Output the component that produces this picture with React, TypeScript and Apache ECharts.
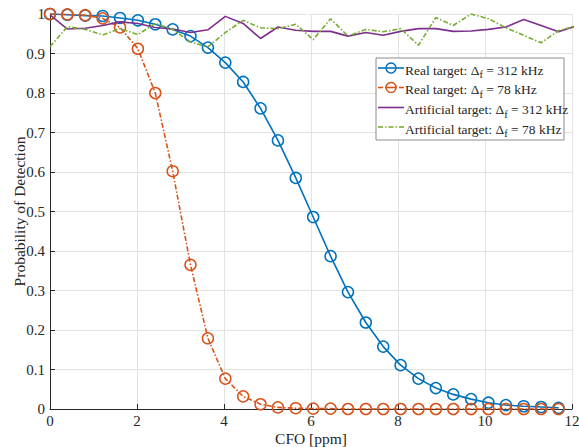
import React, { useEffect, useRef } from "react";
import * as echarts from "echarts";

// CFO values [ppm]
const cfoReal = [0, 0.40, 0.81, 1.21, 1.61, 2.02, 2.42, 2.82, 3.23, 3.63, 4.03, 4.44, 4.84, 5.24, 5.65, 6.05, 6.45, 6.85, 7.26, 7.66, 8.06, 8.47, 8.87, 9.27, 9.68, 10.08, 10.48, 10.89, 11.29, 11.69];
const cfoArtificial = [0, 0.40, 0.81, 1.21, 1.61, 2.02, 2.42, 2.82, 3.23, 3.63, 4.03, 4.44, 4.84, 5.24, 5.65, 6.05, 6.45, 6.85, 7.26, 7.66, 8.06, 8.47, 8.87, 9.27, 9.68, 10.08, 10.48, 10.89, 11.29, 11.69, 12.10];

const real312 = [1.0, 0.998, 0.996, 0.995, 0.990, 0.984, 0.974, 0.961, 0.944, 0.915, 0.877, 0.828, 0.761, 0.680, 0.585, 0.486, 0.387, 0.296, 0.219, 0.158, 0.111, 0.077, 0.053, 0.037, 0.025, 0.016, 0.010, 0.007, 0.005, 0.003];
const real78 = [1.0, 0.999, 0.997, 0.989, 0.966, 0.912, 0.800, 0.602, 0.365, 0.179, 0.077, 0.032, 0.012, 0.004, 0.002, 0.001, 0.001, 0.0, 0.0, 0.0, 0.0, 0.0, 0.0, 0.0, 0.0, 0.0, 0.0, 0.0, 0.0, 0.0];
const artificial312 = [0.998, 0.962, 0.964, 0.971, 0.980, 0.976, 0.966, 0.962, 0.953, 0.960, 0.994, 0.976, 0.938, 0.967, 0.959, 0.956, 0.956, 0.944, 0.953, 0.946, 0.956, 0.963, 0.963, 0.956, 0.957, 0.961, 0.967, 0.986, 0.971, 0.955, 0.970];
const artificial78 = [0.917, 0.968, 0.961, 0.947, 0.963, 0.948, 0.976, 0.961, 0.929, 0.917, 0.953, 0.984, 0.965, 0.963, 0.974, 0.935, 0.988, 0.944, 0.961, 0.955, 0.963, 0.921, 0.991, 0.971, 1.0, 0.988, 0.965, 0.946, 0.927, 0.958, 0.970];

const seriesNames = [
  "Real target: Δ{sub|f} = 312 kHz",
  "Real target: Δ{sub|f} = 78 kHz",
  "Artificial target: Δ{sub|f} = 312 kHz",
  "Artificial target: Δ{sub|f} = 78 kHz",
];

const xTicks = { min: 0, max: 12, interval: 2 };
const yTicks = { min: 0, max: 1, interval: 0.1 };

const FONT = "Liberation Serif";
const TEXT = "#262626";

function pairs(xs: number[], ys: number[]) {
  return ys.map((y, i) => [xs[i], y]);
}

export default function App() {
  const ref = useRef<HTMLDivElement>(null);
  useEffect(() => {
    document.body.style.margin = "0";
    const chart = echarts.init(ref.current!, null, { renderer: "svg" });
    const blue = "#0072BD";
    const orange = "#D95319";
    const purple = "#7E2F8E";
    const green = "#77AC30";
    const dashDot = [5, 2, 1.5, 2];

    const legendColors = [blue, orange, purple, green];
    const legendDashed = [false, true, false, true];
    const legendMarker = [true, true, false, false];
    const lx = 376, ly = 58, lw = 188, lh = 82;
    const rowY = [68, 87.5, 107.5, 127];
    const els: any[] = [
      {
        type: "rect",
        z: 100,
        shape: { x: lx, y: ly, width: lw, height: lh },
        style: { fill: "#fff", stroke: "#8c8c8c", lineWidth: 1 },
      },
    ];
    seriesNames.forEach((name, i) => {
      const y = rowY[i];
      if (legendDashed[i]) {
        const segs = [[2, 7], [9, 10.5], [12.5, 17.5], [19.5, 21], [23, 28]];
        segs.forEach(([a, b]) => {
          els.push({
            type: "line",
            z: 102,
            shape: { x1: lx + a, y1: y, x2: lx + b, y2: y },
            style: { stroke: legendColors[i], lineWidth: 1.6, fill: null },
          });
        });
      } else {
        els.push({
          type: "line",
          z: 102,
          shape: { x1: lx + 2, y1: y, x2: lx + 28, y2: y },
          style: { stroke: legendColors[i], lineWidth: 1.6, fill: null },
        });
      }
      if (legendMarker[i]) {
        els.push({
          type: "circle",
          z: 103,
          shape: { cx: lx + 15, cy: y, r: 5 },
          style: { fill: "#fff", stroke: legendColors[i], lineWidth: 1.5 },
        });
        els.push({
          type: "line",
          z: 104,
          shape: { x1: lx + 11, y1: y, x2: lx + 19, y2: y },
          style: { stroke: legendColors[i], lineWidth: 1.6, fill: null },
        });
      }
      els.push({
        type: "text",
        z: 101,
        x: lx + 29,
        y: y - 8,
        style: {
          text: name,
          fontFamily: FONT,
          fontSize: 13.5,
          fill: TEXT,
          rich: {
            sub: { fontFamily: FONT, fontSize: 10.5, fill: TEXT, padding: [9, 0, 0, 0] },
          },
        },
      });
    });

    chart.setOption({
      animation: false,
      backgroundColor: "#ffffff",
      grid: { left: 50, right: 7, top: 14, bottom: 38, containLabel: false, outerBoundsMode: "none" },
      graphic: els,
      xAxis: {
        type: "value",
        min: xTicks.min,
        max: xTicks.max,
        interval: xTicks.interval,
        name: "CFO [ppm]",
        nameLocation: "middle",
        nameGap: 21,
        nameMoveOverlap: false,
        nameTextStyle: { fontFamily: FONT, fontSize: 15.5, color: TEXT },
        axisLine: { onZero: false, lineStyle: { color: TEXT, width: 1 } },
        axisTick: { inside: true, length: 5, lineStyle: { color: TEXT } },
        axisLabel: { fontFamily: FONT, fontSize: 15, color: TEXT, margin: 4 },
        splitLine: { show: true, lineStyle: { color: "#e3e3e3", width: 1 } },
      },
      yAxis: {
        type: "value",
        min: yTicks.min,
        max: yTicks.max,
        interval: yTicks.interval,
        name: "Probability of Detection",
        nameLocation: "middle",
        nameGap: 23,
        nameMoveOverlap: false,
        nameTextStyle: { fontFamily: FONT, fontSize: 15.5, color: TEXT },
        axisLine: { show: true, onZero: false, lineStyle: { color: TEXT, width: 1 } },
        axisTick: { show: true, inside: true, length: 5, lineStyle: { color: TEXT } },
        axisLabel: {
          fontFamily: FONT,
          fontSize: 15,
          color: TEXT,
          margin: 5,
          formatter: (v: number) => String(+v.toFixed(1)),
        },
        splitLine: { show: true, lineStyle: { color: "#e3e3e3", width: 1 } },
      },
      series: [
        {
          name: seriesNames[0],
          type: "line",
          data: pairs(cfoReal, real312),
          symbol: "circle",
          symbolSize: 11,
          lineStyle: { color: blue, width: 1.6 },
          itemStyle: { color: "rgba(255,255,255,0)", borderColor: blue, borderWidth: 1.5 },
          z: 2,
        },
        {
          name: seriesNames[1],
          type: "line",
          data: pairs(cfoReal, real78),
          symbol: "circle",
          symbolSize: 11,
          lineStyle: { color: orange, width: 1.6, type: dashDot },
          itemStyle: { color: "rgba(255,255,255,0)", borderColor: orange, borderWidth: 1.5 },
          z: 3,
        },
        {
          name: seriesNames[2],
          type: "line",
          data: pairs(cfoArtificial, artificial312),
          showSymbol: false,
          symbol: "none",
          lineStyle: { color: purple, width: 1.6 },
          clip: true,
          z: 4,
        },
        {
          name: seriesNames[3],
          type: "line",
          data: pairs(cfoArtificial, artificial78),
          showSymbol: false,
          symbol: "none",
          lineStyle: { color: green, width: 1.6, type: dashDot },
          clip: true,
          z: 5,
        },
      ],
    });
    return () => chart.dispose();
  }, []);
  return <div ref={ref} style={{ width: 579, height: 447 }} />;
}
